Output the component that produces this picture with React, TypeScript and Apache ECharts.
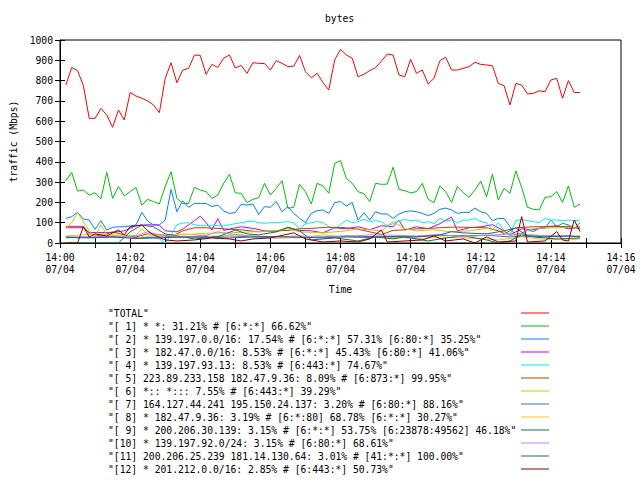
import React, { useEffect, useRef } from "react";
import * as echarts from "echarts";

const FONT = "'DejaVu Sans Mono', 'Liberation Mono', monospace";
const FS = 9.7;

const TITLE = "bytes";
const X_NAME = "Time";
const Y_NAME = "traffic (Mbps)";
const START_HOUR = 14;
const DATE_LABEL = "07/04";
const SAMPLE_START = 10; // seconds after 14:00:00
const SAMPLE_STEP = 10;

const SERIES_NAMES = [
  '"TOTAL"',
  '"[ 1] * *: 31.21% # [6:*:*] 66.62%"',
  '"[ 2] * 139.197.0.0/16: 17.54% # [6:*:*] 57.31% [6:80:*] 35.25%"',
  '"[ 3] * 182.47.0.0/16: 8.53% # [6:*:*] 45.43% [6:80:*] 41.06%"',
  '"[ 4] * 139.197.93.13: 8.53% # [6:443:*] 74.67%"',
  '"[ 5] 223.89.233.158 182.47.9.36: 8.09% # [6:873:*] 99.95%"',
  '"[ 6] *:: *::: 7.55% # [6:443:*] 39.29%"',
  '"[ 7] 164.127.44.241 195.150.24.137: 3.20% # [6:80:*] 88.16%"',
  '"[ 8] * 182.47.9.36: 3.19% # [6:*:80] 68.78% [6:*:*] 30.27%"',
  '"[ 9] * 200.206.30.139: 3.15% # [6:*:*] 53.75% [6:23878:49562] 46.18%"',
  '"[10] * 139.197.92.0/24: 3.15% # [6:80:*] 68.61%"',
  '"[11] 200.206.25.239 181.14.130.64: 3.01% # [41:*:*] 100.00%"',
  '"[12] * 201.212.0.0/16: 2.85% # [6:443:*] 50.73%"',
];

const SERIES_COLORS = [
  "#ff0000", "#00c000", "#0080ff", "#c000ff", "#00eeee", "#c04000",
  "#c8c800", "#4169e1", "#ffc020", "#008040", "#c080ff", "#306080", "#8b0000",
];

// Full-resolution series (one value per 10 s sample)
const TOTAL = [
  778, 864, 849, 775, 614, 614, 663, 631, 570, 655,
  606, 741, 724, 713, 700, 680, 642, 811, 888, 790,
  852, 860, 926, 924, 831, 880, 865, 910, 926, 862,
  875, 836, 888, 885, 884, 852, 898, 885, 869, 871,
  924, 844, 814, 836, 790, 754, 901, 954, 926, 910,
  819, 831, 849, 864, 896, 931, 926, 828, 819, 905,
  836, 852, 783, 811, 898, 915, 852, 852, 860, 869,
  890, 880, 877, 873, 786, 775, 680, 786, 778, 734,
  737, 750, 745, 803, 811, 713, 800, 741, 742,
];
const S1 = [
  307, 348, 256, 261, 236, 248, 217, 348, 220, 278,
  232, 253, 274, 187, 215, 204, 192, 278, 351, 220,
  195, 195, 274, 261, 253, 220, 236, 294, 338, 247,
  245, 199, 215, 223, 294, 236, 269, 307, 171, 176,
  289, 253, 192, 294, 281, 245, 392, 406, 318, 294,
  253, 243, 204, 294, 289, 290, 373, 264, 258, 247,
  253, 294, 215, 199, 281, 253, 200, 278, 248, 225,
  261, 305, 228, 340, 212, 269, 245, 355, 274, 176,
  166, 163, 225, 228, 253, 200, 281, 176, 192,
];
const S2 = [
  121, 130, 151, 118, 113, 67, 110, 64, 77, 80,
  80, 84, 89, 151, 108, 89, 89, 113, 264, 154,
  208, 176, 195, 195, 195, 179, 187, 158, 146, 150,
  190, 187, 192, 141, 179, 176, 204, 154, 179, 146,
  121, 100, 146, 159, 163, 146, 199, 204, 182, 199,
  113, 149, 113, 154, 143, 143, 121, 143, 154, 158,
  154, 146, 135, 146, 166, 172, 163, 146, 151, 151,
  172, 154, 146, 110, 121, 121, 80, 30, 46, 64,
  56, 72, 72, 113, 80, 97, 89, 72, 100,
];
const S4 = [
  30, 28, 25, 30, 28, 25, 30, 28, 30, 25,
  28, 30, 28, 25, 30, 28, 20, 0, 40, 90,
  98, 100, 90, 85, 85, 88, 85, 85, 90, 95,
  100, 105, 108, 100, 97, 100, 100, 102, 105, 100,
  69, 95, 100, 105, 100, 80, 70, 90, 113, 100,
  105, 117, 105, 110, 105, 85, 95, 110, 115, 110,
  113, 100, 105, 95, 121, 108, 113, 100, 113, 113,
  121, 105, 100, 64, 100, 60, 40, 110, 115, 110,
  105, 100, 121, 113, 113, 110, 113, 110, 113,
];

// Smaller series read at their visible vertices (sample index, value)
const S3_K = [0, 3, 4, 8, 10, 12, 14, 16, 17, 19, 20, 22, 23, 24, 25, 26, 27, 29, 30, 32, 34, 36, 38, 40, 42, 44, 46, 48, 50, 52, 54, 56, 57, 58, 60, 62, 64, 66, 67, 69, 71, 73, 75, 76, 78, 80, 82, 84, 86, 88];
const S3_V = [75, 75, 52, 52, 60, 85, 90, 88, 60, 55, 68, 110, 132, 100, 64, 120, 62, 75, 80, 72, 60, 55, 75, 62, 60, 50, 75, 70, 80, 65, 85, 80, 113, 64, 80, 70, 95, 128, 60, 75, 80, 90, 60, 40, 70, 65, 80, 85, 70, 80];

const S5_K = [0, 3, 4, 6, 8, 10, 12, 14, 16, 18, 20, 22, 24, 26, 28, 30, 33, 36, 38, 40, 42, 45, 48, 50, 52, 54, 56, 58, 60, 62, 64, 66, 68, 70, 72, 74, 75, 77, 80, 84, 86, 88];
const S5_V = [82, 82, 45, 35, 55, 40, 30, 45, 40, 30, 60, 75, 75, 72, 68, 65, 55, 60, 62, 70, 72, 78, 75, 68, 55, 42, 62, 65, 70, 72, 75, 78, 78, 76, 75, 60, 45, 75, 80, 80, 82, 70];

const S6_K = [0, 1, 2, 4, 5, 6, 7, 9, 12, 13, 14, 17, 20, 24, 28, 32, 36, 38, 40, 44, 48, 50, 52, 54, 56, 58, 60, 63, 66, 69, 72, 74, 76, 78, 80, 84, 88];
const S6_V = [72, 100, 150, 60, 30, 90, 40, 35, 38, 70, 40, 42, 40, 48, 50, 55, 60, 70, 55, 50, 60, 70, 65, 60, 105, 70, 60, 65, 55, 60, 72, 65, 35, 50, 72, 75, 78];

const S7_K = [0, 4, 8, 12, 16, 20, 24, 28, 32, 36, 40, 44, 48, 52, 56, 60, 64, 68, 72, 76, 80, 84, 88];
const S7_V = [30, 28, 32, 25, 30, 28, 32, 35, 30, 25, 28, 30, 35, 32, 28, 30, 38, 35, 38, 30, 35, 35, 32];

const S8_K = [0, 3, 6, 9, 12, 14, 16, 20, 24, 26, 28, 32, 36, 40, 44, 48, 52, 56, 60, 64, 68, 72, 74, 78, 82, 86, 88];
const S8_V = [35, 40, 45, 38, 20, 42, 35, 45, 38, 20, 40, 35, 28, 25, 40, 30, 25, 30, 20, 30, 25, 20, 15, 30, 18, 15, 20];

const S9_K = [0, 9, 11, 13, 15, 17, 19, 22, 26, 29, 31, 33, 36, 38, 40, 42, 44, 46, 50, 53, 56, 58, 60, 62, 65, 68, 70, 72, 74, 76, 78, 80, 84, 88];
const S9_V = [0, 0, 55, 88, 80, 45, 35, 20, 30, 64, 45, 40, 55, 78, 60, 15, 20, 25, 10, 30, 20, 30, 20, 10, 25, 35, 25, 15, 0, 10, 40, 30, 20, 25];

const S10_K = [0, 4, 8, 12, 14, 16, 20, 24, 26, 28, 32, 36, 40, 44, 48, 52, 56, 60, 64, 68, 72, 76, 80, 84, 88];
const S10_V = [25, 30, 28, 35, 55, 40, 30, 38, 55, 45, 35, 30, 35, 28, 32, 40, 38, 35, 42, 30, 38, 45, 40, 30, 35];

const S11_K = [0, 4, 8, 12, 16, 20, 24, 28, 32, 36, 40, 44, 48, 52, 56, 60, 64, 66, 68, 72, 75, 77, 79, 82, 86, 88];
const S11_V = [28, 25, 30, 22, 25, 30, 28, 25, 30, 32, 28, 25, 30, 28, 32, 30, 40, 56, 50, 45, 60, 74, 35, 30, 35, 30];

const S12_K = [0, 2, 3, 4, 5, 7, 9, 10, 11, 13, 14, 15, 17, 19, 22, 25, 28, 30, 32, 35, 39, 41, 44, 47, 50, 52, 54, 55, 58, 61, 63, 65, 68, 70, 72, 74, 77, 78, 79, 82, 84, 85, 86, 87, 88];
const S12_V = [0, 0, 80, 30, 45, 35, 64, 40, 80, 89, 60, 40, 15, 10, 15, 25, 20, 10, 20, 25, 50, 20, 5, 10, 5, 20, 64, 5, 10, 15, 35, 10, 20, 0, 30, 5, 10, 130, 5, 10, 56, 15, 10, 113, 56];

const X_MIN = 0;
const X_MAX = 960;
const X_TICK = 60;

const t = (k: number) => SAMPLE_START + k * SAMPLE_STEP;
const full = (vals: number[]) => vals.map((v, k) => [t(k), v]);
const verts = (ks: number[], vs: number[]) => ks.map((k, i) => [t(k), vs[i]]);

const SERIES_DATA = [
  full(TOTAL),
  full(S1),
  full(S2),
  verts(S3_K, S3_V),
  full(S4),
  verts(S5_K, S5_V),
  verts(S6_K, S6_V),
  verts(S7_K, S7_V),
  verts(S8_K, S8_V),
  verts(S9_K, S9_V),
  verts(S10_K, S10_V),
  verts(S11_K, S11_V),
  verts(S12_K, S12_V),
];

const pad = (n: number) => (n < 10 ? "0" + n : "" + n);

export default function App() {
  const ref = useRef<HTMLDivElement>(null);
  useEffect(() => {
    if (!ref.current) return;
    const chart = echarts.init(ref.current, undefined, { renderer: "svg" });
    const textBase = { fontFamily: FONT, fontSize: FS, color: "#000" };
    const tick = { show: true, inside: true, length: 5, lineStyle: { color: "#000", width: 1 } };
    const xCommon = {
      type: "value",
      min: X_MIN,
      max: X_MAX,
      interval: X_TICK,
      splitLine: { show: false },
    };
    const yCommon = {
      type: "value",
      min: 0,
      max: 1000,
      interval: 100,
      splitLine: { show: false },
    };
    chart.setOption({
      animation: false,
      backgroundColor: "#fff",
      title: {
        text: TITLE,
        left: 325,
        top: 13,
        padding: 0,
        textStyle: { ...textBase, fontWeight: "normal" },
      },
      grid: {
        left: 58,
        right: 19,
        top: 40,
        bottom: 237,
        show: true,
        borderColor: "#000",
        borderWidth: 1,
        backgroundColor: "transparent",
      },
      xAxis: [
        {
          ...xCommon,
          position: "bottom",
          name: X_NAME,
          nameLocation: "middle",
          nameGap: 41,
          nameTextStyle: textBase,
          axisLine: { show: true, lineStyle: { color: "#000" } },
          axisTick: tick,
          axisLabel: {
            ...textBase,
            margin: 8,
            lineHeight: 12.6,
            showMinLabel: true,
            showMaxLabel: true,
            formatter: (v: number) =>
              v % 120 === 0 ? `${START_HOUR + Math.floor(v / 3600)}:${pad(Math.floor(v / 60) % 60)}\n${DATE_LABEL}` : "",
          },
        },
        {
          ...xCommon,
          position: "top",
          axisLine: { show: false },
          axisTick: tick,
          axisLabel: { show: false },
        },
      ],
      yAxis: [
        {
          ...yCommon,
          position: "left",
          name: Y_NAME,
          nameLocation: "middle",
          nameGap: 42,
          nameRotate: 90,
          nameTextStyle: textBase,
          axisLine: { show: true, lineStyle: { color: "#000" } },
          axisTick: tick,
          axisLabel: { ...textBase, margin: 7, formatter: (v: number) => String(v) },
        },
        {
          ...yCommon,
          position: "right",
          axisLine: { show: false },
          axisTick: tick,
          axisLabel: { show: false },
        },
      ],
      legend: {
        data: SERIES_NAMES.map((n) => ({ name: n, icon: "rect" })),
        orient: "vertical",
        left: 108,
        top: 306.5,
        align: "right",
        itemWidth: 28,
        itemHeight: 1,
        itemGap: 0,
        padding: 0,
        selectedMode: false,
        formatter: (name: string) => `{t|${name}}`,
        textStyle: {
          ...textBase,
          lineHeight: 13,
          rich: {
            t: { fontFamily: FONT, fontSize: FS, color: "#000", width: 408, align: "left", lineHeight: 13 },
          },
        },
      },
      series: SERIES_NAMES.map((name, i) => ({
        name,
        type: "line",
        xAxisIndex: 0,
        yAxisIndex: 0,
        data: SERIES_DATA[i],
        symbol: "none",
        showSymbol: false,
        silent: true,
        color: SERIES_COLORS[i],
        lineStyle: { color: SERIES_COLORS[i], width: 1 },
        emphasis: { disabled: true },
      })),
    });
    return () => chart.dispose();
  }, []);
  return (
    <div
      ref={ref}
      style={{ position: "fixed", left: 0, top: 0, width: 640, height: 480, background: "#fff" }}
    />
  );
}
